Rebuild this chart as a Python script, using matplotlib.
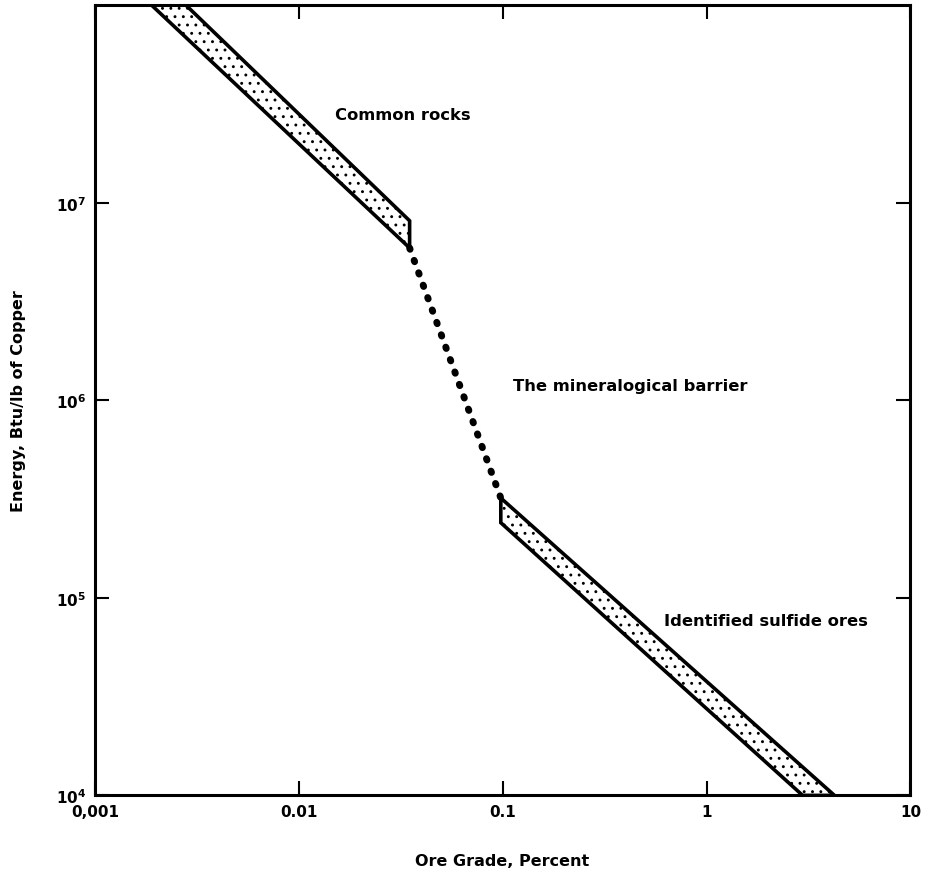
import matplotlib.pyplot as plt

plt.rcParams['font.family'] = ['DejaVu Sans']
plt.rcParams['hatch.linewidth'] = 0.9
plt.rcParams['hatch.color'] = '#666666'

# values (ore grade in percent, energy in Btu/lb)
rocks_x = [0.0019, 0.0028, 0.035, 0.035]
rocks_y = [1e8, 1e8, 8.1e6, 5.9e6]

barrier_x = [0.035, 0.098]
barrier_y = [5.9e6, 3.2e5]

sulfide_x = [0.098, 0.098, 2.96, 4.24]
sulfide_y = [3.2e5, 2.4e5, 1e4, 1e4]

xticks = [0.001, 0.01, 0.1, 1, 10]
xlabels = ['0,001', '0.01', '0.1', '1', '10']
yticks = [1e4, 1e5, 1e6, 1e7]
ylabels = [r'$\mathbf{10^4}$', r'$\mathbf{10^5}$', r'$\mathbf{10^6}$', r'$\mathbf{10^7}$']

fig = plt.figure(figsize=(9.29, 8.79), dpi=100)
ax = fig.add_axes([0.102, 0.094, 0.878, 0.899])
ax.set_xscale('log')
ax.set_yscale('log')
ax.set_xlim(0.001, 10)
ax.set_ylim(1e4, 1e8)

for xs, ys in [(rocks_x, rocks_y), (sulfide_x, sulfide_y)]:
    ax.fill(xs, ys, facecolor='white', edgecolor='black', hatch='..',
            linewidth=0, zorder=2)
    ax.fill(xs, ys, facecolor='none', edgecolor='black', linewidth=2.6,
            joinstyle='miter', zorder=3)

ax.plot(barrier_x, barrier_y, color='black', linewidth=5,
        linestyle=(0, (0.2, 1.7)), dash_capstyle='round', zorder=3)

txt = dict(fontsize=11.8, fontweight='bold', color='black', va='center')
ax.text(0.015, 2.8e7, 'Common rocks', **txt)
ax.text(0.112, 1.19e6, 'The mineralogical barrier', **txt)
ax.text(0.62, 7.7e4, 'Identified sulfide ores', **txt)

ax.set_xticks(xticks)
ax.set_xticklabels(xlabels)
ax.set_yticks(yticks)
ax.set_yticklabels(ylabels)
ax.minorticks_off()
ax.tick_params(which='major', direction='in', length=10, width=1.5,
               top=True, right=True, labelsize=11, pad=6)
for lab in ax.get_xticklabels():
    lab.set_fontweight('bold')

for s in ax.spines.values():
    s.set_linewidth(2.2)

ax.set_xlabel('Ore Grade, Percent', fontsize=11.5, fontweight='bold', labelpad=25)
ax.set_ylabel('Energy, Btu/lb of Copper', fontsize=11.5, fontweight='bold', labelpad=22)

fig.savefig('out.png', dpi=100)
